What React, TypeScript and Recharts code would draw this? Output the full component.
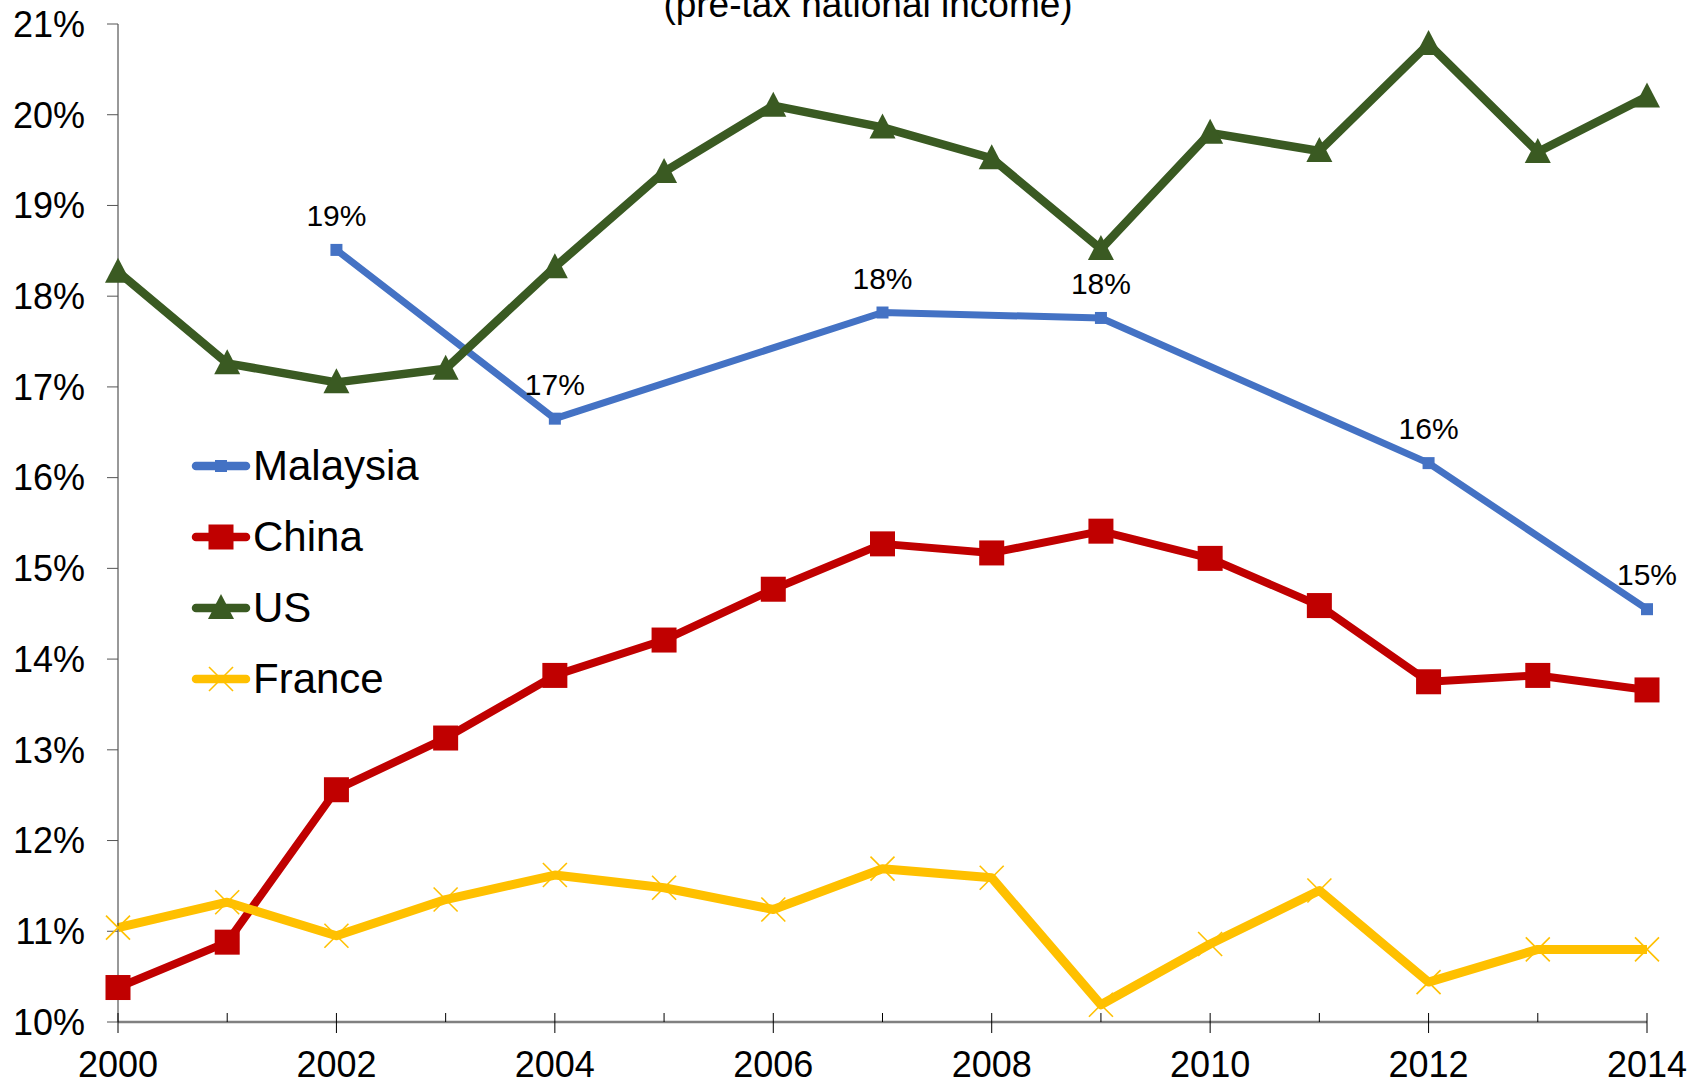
import React from 'react';
import { LineChart, Line, XAxis, YAxis, Legend, LabelList } from 'recharts';

const FONT = '"Liberation Sans", Arial, sans-serif';

const BLUE = '#4472C4';
const RED = '#C00000';
const GREEN = '#3A5A22';
const YELLOW = '#FFC000';

// Share of income, percent
const years = [2000, 2001, 2002, 2003, 2004, 2005, 2006, 2007, 2008, 2009, 2010, 2011, 2012, 2013, 2014];
const malaysia = [null, null, 18.51, null, 16.65, null, null, 17.82, null, 17.76, null, null, 16.16, null, 14.55];
const china = [10.38, 10.88, 12.56, 13.13, 13.82, 14.21, 14.77, 15.27, 15.17, 15.41, 15.11, 14.59, 13.75, 13.82, 13.66];
const us = [18.27, 17.26, 17.05, 17.2, 18.32, 19.37, 20.1, 19.86, 19.52, 18.52, 19.8, 19.6, 20.78, 19.59, 20.2];
const france = [11.04, 11.32, 10.95, 11.35, 11.62, 11.48, 11.24, 11.69, 11.59, 10.19, 10.86, 11.45, 10.44, 10.8, 10.8];

const yTicks = [10, 11, 12, 13, 14, 15, 16, 17, 18, 19, 20, 21];
const labelYears = [2000, 2002, 2004, 2006, 2008, 2010, 2012, 2014];

const legendItems = [
  { name: 'Malaysia', color: BLUE, marker: 'smallSquare' },
  { name: 'China', color: RED, marker: 'square' },
  { name: 'US', color: GREEN, marker: 'triangle' },
  { name: 'France', color: YELLOW, marker: 'cross' },
];

const data = years.map((year, i) => ({
  year,
  malaysia: malaysia[i],
  china: china[i],
  us: us[i],
  france: france[i],
}));

function drawMarker(kind: string, cx: number, cy: number, color: string) {
  if (kind === 'smallSquare') return <rect x={cx - 6} y={cy - 6} width={12} height={12} fill={color} />;
  if (kind === 'square') return <rect x={cx - 12.5} y={cy - 12.5} width={25} height={25} fill={color} />;
  if (kind === 'triangle')
    return <polygon points={`${cx},${cy - 14} ${cx + 13},${cy + 11} ${cx - 13},${cy + 11}`} fill={color} />;
  return (
    <g stroke={color} strokeWidth={1.6}>
      <line x1={cx - 12} y1={cy - 12} x2={cx + 12} y2={cy + 12} />
      <line x1={cx - 12} y1={cy + 12} x2={cx + 12} y2={cy - 12} />
    </g>
  );
}

const makeDot = (kind: string, color: string) => (props: any) => {
  const { cx, cy, value, index } = props;
  if (value == null || cx == null || cy == null) return <g key={`d-${index}`} />;
  return <g key={`d-${index}`}>{drawMarker(kind, cx, cy, color)}</g>;
};

const PercentLabel = (props: any) => {
  const { x, y, value } = props;
  if (value == null || x == null || y == null) return null;
  return (
    <text x={x} y={y - 24} textAnchor="middle" fontSize={30} fontFamily={FONT} fill="#000">
      {`${Math.round(value)}%`}
    </text>
  );
};

const YearTick = (props: any) => {
  const { x, y, payload } = props;
  const major = labelYears.includes(payload.value);
  return (
    <g>
      <line x1={x} x2={x} y1={y - 9} y2={major ? y + 11 : y} stroke="#000" strokeWidth={1} />
      {major && (
        <text x={x} y={y + 55} textAnchor="middle" fontSize={36} fontFamily={FONT} fill="#000">
          {payload.value}
        </text>
      )}
    </g>
  );
};

const ChartLegend = () => (
  <div style={{ fontFamily: FONT, fontSize: 42, color: '#000' }}>
    {legendItems.map((item) => (
      <div key={item.name} style={{ display: 'flex', alignItems: 'center', height: 71, lineHeight: '71px' }}>
        <svg width={62} height={40} style={{ display: 'block' }}>
          <line x1={6} x2={56} y1={20} y2={20} stroke={item.color} strokeWidth={8.5} strokeLinecap="round" />
          {drawMarker(item.marker, 31, 20, item.color)}
        </svg>
        <span style={{ marginLeft: 1 }}>{item.name}</span>
      </div>
    ))}
  </div>
);

export default function App() {
  return (
    <div style={{ position: 'absolute', left: 0, top: 0, width: 1701, height: 1085, background: '#fff' }}>
      <LineChart width={1701} height={1085} data={data} margin={{ top: 24, right: 54, bottom: 0, left: 0 }}>
        <XAxis
          dataKey="year"
          type="number"
          domain={[2000, 2014]}
          ticks={years}
          interval={0}
          height={63}
          tickSize={0}
          tickMargin={0}
          tickLine={false}
          axisLine={{ stroke: '#808080', strokeWidth: 2.5 }}
          tick={<YearTick />}
        />
        <YAxis
          type="number"
          domain={[10, 21]}
          ticks={yTicks}
          interval={0}
          width={118}
          tickSize={11}
          tickMargin={22}
          tickFormatter={(v: number) => `${v}%`}
          axisLine={{ stroke: '#333', strokeWidth: 1 }}
          tickLine={{ stroke: '#555', strokeWidth: 1 }}
          tick={{ fontSize: 36, fontFamily: FONT, fill: '#000' }}
        />
        <Legend
          layout="vertical"
          align="center"
          verticalAlign="middle"
          content={<ChartLegend />}
          wrapperStyle={{ left: 190, top: 430, width: 320, height: 284 }}
        />
        <Line
          dataKey="malaysia"
          name="Malaysia"
          stroke={BLUE}
          strokeWidth={7}
          strokeLinejoin="round"
          connectNulls
          isAnimationActive={false}
          dot={makeDot('smallSquare', BLUE)}
          activeDot={false}
        >
          <LabelList dataKey="malaysia" content={<PercentLabel />} />
        </Line>
        <Line
          dataKey="china"
          name="China"
          stroke={RED}
          strokeWidth={8}
          strokeLinejoin="round"
          isAnimationActive={false}
          dot={makeDot('square', RED)}
          activeDot={false}
        />
        <Line
          dataKey="us"
          name="US"
          stroke={GREEN}
          strokeWidth={8.5}
          strokeLinejoin="round"
          isAnimationActive={false}
          dot={makeDot('triangle', GREEN)}
          activeDot={false}
        />
        <Line
          dataKey="france"
          name="France"
          stroke={YELLOW}
          strokeWidth={9}
          strokeLinejoin="round"
          isAnimationActive={false}
          dot={makeDot('cross', YELLOW)}
          activeDot={false}
        />
      </LineChart>
      <svg width={1701} height={40} style={{ position: 'absolute', left: 0, top: 0, pointerEvents: 'none' }}>
        <text x={868} y={17} textAnchor="middle" fontSize={37} fontFamily={FONT} fill="#000">
          (pre-tax national income)
        </text>
      </svg>
    </div>
  );
}
